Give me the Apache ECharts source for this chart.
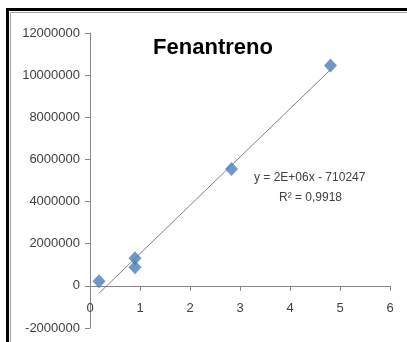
<!DOCTYPE html>
<html>
<head>
<meta charset="utf-8">
<script src="https://cdn.jsdelivr.net/npm/echarts@6/dist/echarts.min.js"></script>
<style>
html,body{margin:0;padding:0;background:#fff;}
#c{width:407px;height:342px;}
</style>
</head>
<body>
<div id="c"></div>
<script>
var titleText = 'Fenantreno';
var pointsX = [0.18, 0.90, 0.90, 2.83, 4.81];
var pointsY = [220000, 1310000, 880000, 5550000, 10460000];
var trendX = [0.18, 4.81];
var trendY = [-350000, 10260000];
var xTicks = [0, 1, 2, 3, 4, 5, 6];
var yTicks = [-2000000, 0, 2000000, 4000000, 6000000, 8000000, 10000000, 12000000];
var equationText = 'y = 2E+06x - 710247';
var r2Text = 'R² = 0,9918';

var scatterData = pointsX.map(function(x, i){ return [x, pointsY[i]]; });
var lineData = trendX.map(function(x, i){ return [x, trendY[i]]; });

var gridTop = 33, gridBottom = 14, H = 342;
var yMin = yTicks[0], yMax = yTicks[yTicks.length-1];
var zeroOffset = (H - gridTop - gridBottom) * (0 - yMin) / (yMax - yMin);

var font = '"Liberation Sans", Arial, sans-serif';
var chart = echarts.init(document.getElementById('c'));
chart.setOption({
  animation: false,
  backgroundColor: '#fff',
  title: {
    text: titleText,
    left: 208, top: 32, textAlign: 'center',
    textStyle: {fontFamily: font, fontWeight: 'bold', fontSize: 22, color: '#000'}
  },
  grid: {left: 90, right: 17, top: gridTop, bottom: gridBottom, containLabel: false, outerBoundsMode: 'none'},
  xAxis: {
    type: 'value', min: xTicks[0], max: xTicks[xTicks.length-1], interval: 1,
    offset: -zeroOffset,
    axisLine: {onZero: false, lineStyle: {color: '#868686', width: 1}},
    axisTick: {show: true, inside: false, length: 5, lineStyle: {color: '#868686'}},
    splitLine: {show: false},
    axisLabel: {margin: 16, fontFamily: font, fontSize: 13, color: '#404040'}
  },
  yAxis: {
    type: 'value', min: yMin, max: yMax, interval: 2000000,
    axisLine: {show: true, lineStyle: {color: '#868686', width: 1}},
    axisTick: {show: true, length: 5, lineStyle: {color: '#868686'}},
    splitLine: {show: false},
    axisLabel: {margin: 10, fontFamily: font, fontSize: 13, color: '#404040',
      formatter: function(v){ return String(v); }}
  },
  series: [
    {
      type: 'line', data: lineData, symbol: 'none', silent: true,
      lineStyle: {color: '#808080', width: 1}, z: 1
    },
    {
      type: 'scatter', data: scatterData, symbol: 'diamond', symbolSize: [13, 14],
      itemStyle: {color: '#4a7ebb'}, z: 2
    }
  ],
  graphic: [
    {type: 'rect', shape: {x: 7.5, y: 9.5, width: 420, height: 360}, style: {fill: 'none', stroke: '#000', lineWidth: 3}, silent: true},
    {type: 'rect', shape: {x: 10.5, y: 12.5, width: 420, height: 360}, style: {fill: 'none', stroke: '#a0a0a0', lineWidth: 1}, silent: true},
    {type: 'text', left: 254, top: 172, style: {text: equationText, fontFamily: font, fontSize: 12, fill: '#404040'}},
    {type: 'text', left: 279, top: 192, style: {text: r2Text, fontFamily: font, fontSize: 12, fill: '#404040'}}
  ]
});
</script>
</body>
</html>
